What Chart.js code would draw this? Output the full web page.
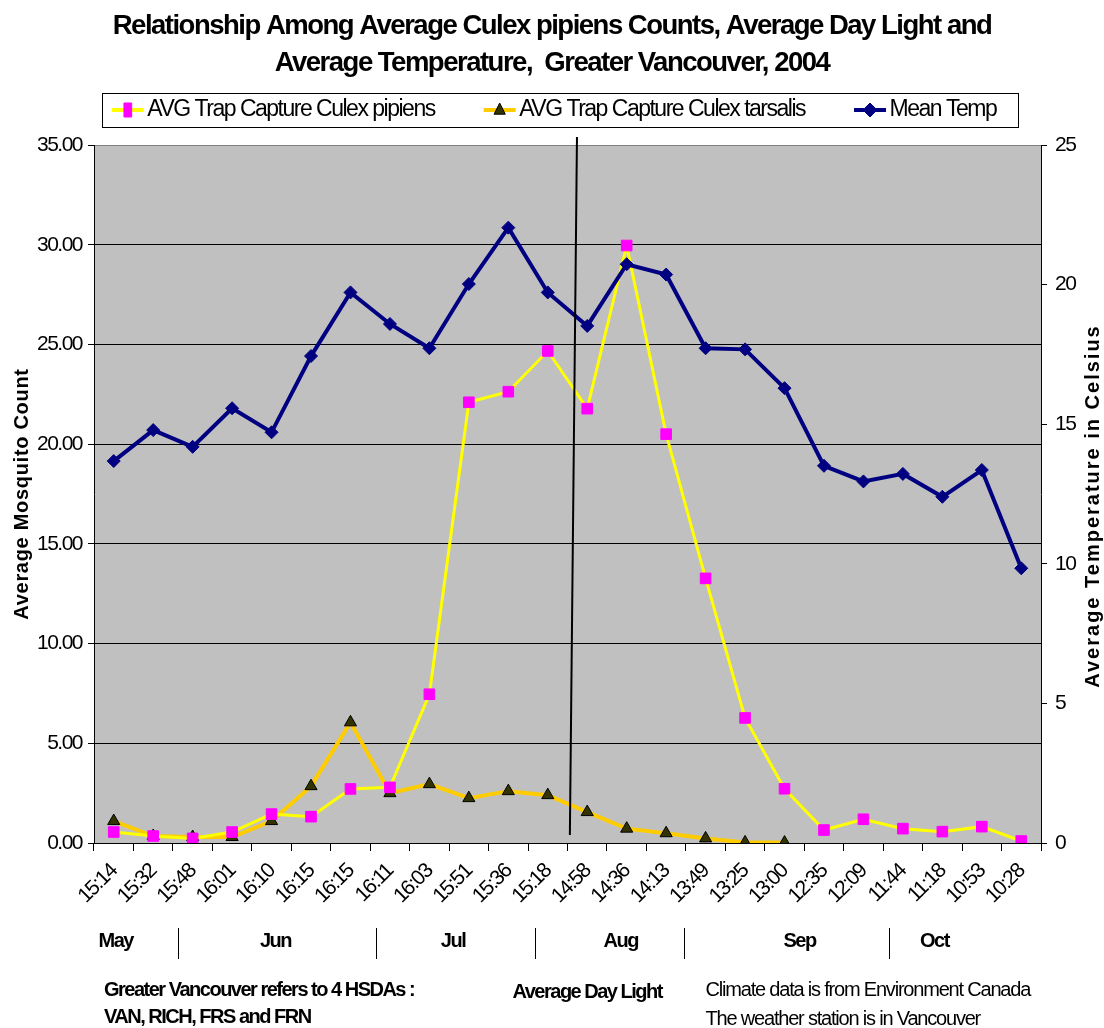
<!DOCTYPE html>
<html>
<head>
<meta charset="utf-8">
<script src="https://cdn.jsdelivr.net/npm/chart.js@4.4.1/dist/chart.umd.min.js"></script>
<style>
  body { margin: 0; background: #fff; }
</style>
</head>
<body>
<canvas id="chart" width="1104" height="1028"></canvas>
<script>
// Average day light per sampling week (x categories)
const dayLightTimes = ['15:14', '15:32', '15:48', '16:01', '16:10', '16:15', '16:15', '16:11', '16:03', '15:51', '15:36', '15:18',
    '14:58', '14:36', '14:13', '13:49', '13:25', '13:00', '12:35', '12:09', '11:44', '11:18', '10:53', '10:28'];
// Mosquito counts (left axis)
const pipiensCounts = [0.55, 0.35, 0.23, 0.55, 1.45, 1.32, 2.71, 2.79, 7.46, 22.1, 22.63, 24.67,
    21.78, 29.96, 20.5, 13.27, 6.27, 2.72, 0.65, 1.19, 0.72, 0.57, 0.82, 0.1];
const tarsalisCounts = [1.1, 0.35, 0.3, 0.3, 1.1, 2.85, 6.05, 2.5, 2.95, 2.25, 2.6, 2.4,
    1.55, 0.72, 0.49, 0.23, 0.03, 0.02, null, null, null, null, null, null];
// Mean temperature (right axis, Celsius)
const meanTemp = [13.68, 14.79, 14.19, 15.57, 14.71, 17.44, 19.72, 18.59, 17.72, 20.02, 22.04, 19.72,
    18.52, 20.73, 20.36, 17.72, 17.68, 16.29, 13.51, 12.95, 13.22, 12.40, 13.36, 9.84];
// Month row under the axis, in category index units
const months = ['May', 'Jun', 'Jul', 'Aug', 'Sep', 'Oct'];
const monthCentres = [0.05, 4.1, 8.6, 12.85, 17.38, 20.8];
const monthBreaks = [1.62, 6.65, 10.68, 14.45, 19.66];
// "Average Day Light" marker line: [category index, count value]
const dayLightTop = [11.74, 35.4];
const dayLightBottom = [11.56, 0.4];

const FONT = "'Liberation Sans', Arial, sans-serif";
Chart.defaults.font.family = FONT;
Chart.defaults.color = '#000';

function drawMarker(ctx, style, x, y, r, fill, stroke) {
    ctx.beginPath();
    if (style === 'rect') {
        ctx.rect(x - r * 0.55, y - r, r * 1.1, r * 2);
    } else if (style === 'triangle') {
        ctx.moveTo(x, y - r);
        ctx.lineTo(x + r * 0.8, y + r * 0.6);
        ctx.lineTo(x - r * 0.8, y + r * 0.6);
        ctx.closePath();
    } else {
        ctx.moveTo(x, y - r);
        ctx.lineTo(x + r, y);
        ctx.lineTo(x, y + r);
        ctx.lineTo(x - r, y);
        ctx.closePath();
    }
    ctx.fillStyle = fill;
    ctx.fill();
    ctx.strokeStyle = stroke;
    ctx.lineWidth = 1;
    ctx.stroke();
}

const excelLook = {
    id: 'excelLook',
    beforeLayout(chart) {
        chart.ctx.letterSpacing = '-1.5px';
    },
    beforeDraw(chart) {
        const {ctx, chartArea: a} = chart;
        ctx.save();
        ctx.fillStyle = '#c0c0c0';
        ctx.fillRect(a.left, a.top, a.right - a.left, a.bottom - a.top);
        ctx.restore();
        ctx.letterSpacing = '-1.5px';
    },
    afterDatasetsDraw(chart) {
        // x labels are drawn on a later layer with normal spacing
        chart.ctx.letterSpacing = '0px';
    },
    afterDraw(chart) {
        const {ctx, chartArea: a} = chart;
        const xs = chart.scales.x, ys = chart.scales.y;
        ctx.save();

        // day light line
        ctx.strokeStyle = '#000';
        ctx.lineWidth = 2;
        ctx.beginPath();
        ctx.moveTo(xs.getPixelForValue(dayLightTop[0]), ys.getPixelForValue(dayLightTop[1]));
        ctx.lineTo(xs.getPixelForValue(dayLightBottom[0]), ys.getPixelForValue(dayLightBottom[1]));
        ctx.stroke();

        // legend markers and frame
        const legend = chart.legend;
        const boxes = legend.legendHitBoxes;
        legend.legendItems.forEach((item, i) => {
            const hb = boxes[i];
            const ds = chart.data.datasets[item.datasetIndex];
            const cx = hb.left + 20, cy = hb.top + hb.height / 2;
            ctx.strokeStyle = ds.borderColor;
            ctx.lineWidth = 4;
            ctx.beginPath();
            ctx.moveTo(cx - 16, cy);
            ctx.lineTo(cx + 16, cy);
            ctx.stroke();
            drawMarker(ctx, ds.pointStyle, cx, cy, 7, ds.pointBackgroundColor, ds.pointBorderColor);
        });
        const first = boxes[0], last = boxes[boxes.length - 1];
        const midY = first.top + first.height / 2;
        ctx.strokeStyle = '#000';
        ctx.lineWidth = 1;
        ctx.strokeRect(Math.round(first.left - 6) + 0.5, Math.round(midY - 17) + 0.5,
            Math.round(last.left + last.width + 22 - first.left + 6), 34);

        // axis titles
        ctx.fillStyle = '#000';
        ctx.font = 'bold 20px ' + FONT;
        ctx.textAlign = 'center';
        ctx.textBaseline = 'middle';
        ctx.save();
        ctx.translate(a.left - 72, (a.top + a.bottom) / 2);
        ctx.rotate(-Math.PI / 2);
        ctx.letterSpacing = '0.7px';
        ctx.fillText('Average Mosquito Count', 0, 0);
        ctx.restore();
        ctx.save();
        ctx.translate(a.right + 52, (a.top + a.bottom) / 2 + 12);
        ctx.rotate(-Math.PI / 2);
        ctx.letterSpacing = '2px';
        ctx.fillText('Average Temperature in Celsius', 0, 0);
        ctx.restore();

        // month row
        ctx.letterSpacing = '-1.5px';
        ctx.font = 'bold 20px ' + FONT;
        months.forEach((m, i) => ctx.fillText(m, xs.getPixelForValue(monthCentres[i]), a.bottom + 98));
        ctx.lineWidth = 1;
        monthBreaks.forEach(v => {
            const x = Math.round(xs.getPixelForValue(v)) + 0.5;
            ctx.beginPath();
            ctx.moveTo(x, a.bottom + 85);
            ctx.lineTo(x, a.bottom + 116);
            ctx.stroke();
        });

        // notes
        ctx.textAlign = 'left';
        ctx.fillText('Greater Vancouver refers to 4 HSDAs :', a.left + 10, a.bottom + 147);
        ctx.fillText('VAN, RICH, FRS and FRN', a.left + 10, a.bottom + 174);
        ctx.textAlign = 'center';
        ctx.fillText('Average Day Light', xs.getPixelForValue(12), a.bottom + 149);
        ctx.textAlign = 'left';
        ctx.font = '20px ' + FONT;
        ctx.letterSpacing = '-1.2px';
        ctx.fillText('Climate data is from Environment Canada', xs.getPixelForValue(15), a.bottom + 147);
        ctx.fillText('The weather station is in Vancouver', xs.getPixelForValue(15), a.bottom + 176);
        ctx.restore();
    }
};

const ctx = document.getElementById('chart').getContext('2d');
new Chart(ctx, {
    type: 'line',
    data: {
        labels: dayLightTimes,
        datasets: [{
            label: 'AVG Trap Capture Culex pipiens',
            data: pipiensCounts,
            yAxisID: 'y',
            order: 1,
            borderColor: '#ffff00',
            borderWidth: 3,
            pointStyle: 'rect',
            pointRadius: 7.5,
            pointBackgroundColor: '#ff00ff',
            pointBorderColor: '#ff00ff',
            pointBorderWidth: 1
        }, {
            label: 'AVG Trap Capture Culex tarsalis',
            data: tarsalisCounts,
            yAxisID: 'y',
            order: 2,
            borderColor: '#ffcc00',
            borderWidth: 4,
            pointStyle: 'triangle',
            pointRadius: 7,
            pointBackgroundColor: '#333300',
            pointBorderColor: '#000',
            pointBorderWidth: 1
        }, {
            label: 'Mean Temp',
            data: meanTemp,
            yAxisID: 'y1',
            order: 0,
            borderColor: '#000080',
            borderWidth: 4,
            pointStyle: 'rectRot',
            pointRadius: 6.5,
            pointBackgroundColor: '#000080',
            pointBorderColor: '#000080',
            pointBorderWidth: 1
        }]
    },
    options: {
        responsive: false,
        animation: false,
        layout: { padding: { top: 0, left: 0, right: 0, bottom: 110 } },
        plugins: {
            title: {
                display: true,
                text: ['Relationship Among Average Culex pipiens Counts, Average Day Light and',
                    'Average Temperature,  Greater Vancouver, 2004'],
                font: { size: 27.5, weight: 'bold', lineHeight: 37 / 27.5 },
                padding: { top: 8, bottom: -42 },
                color: '#000'
            },
            legend: {
                labels: {
                    font: { size: 23 },
                    boxWidth: 28,
                    boxHeight: 50,
                    padding: 45,
                    color: '#000',
                    sort: (a, b) => a.datasetIndex - b.datasetIndex,
                    generateLabels(chart) {
                        return Chart.defaults.plugins.legend.labels.generateLabels(chart).map(item =>
                            Object.assign(item, { fillStyle: 'rgba(0,0,0,0)', strokeStyle: 'rgba(0,0,0,0)', lineWidth: 0 }));
                    }
                }
            },
            tooltip: { enabled: false }
        },
        scales: {
            x: {
                offset: true,
                z: 1,
                grid: { offset: true, drawOnChartArea: false, tickLength: 8, color: '#000' },
                border: { color: '#000' },
                ticks: { minRotation: 45, maxRotation: 45, autoSkip: false, font: { size: 21 }, padding: 8, color: '#000' },
                afterFit(scale) { scale.height = 75; }
            },
            y: {
                position: 'left',
                min: 0,
                max: 35,
                ticks: { stepSize: 5, font: { size: 21 }, padding: 6, color: '#000', callback: v => v.toFixed(2) },
                grid: { color: c => (c.tick && c.tick.value === 35 ? '#808080' : '#000'), tickLength: 6, tickColor: '#000' },
                border: { color: '#000' },
                afterFit(scale) { scale.width = 94; }
            },
            y1: {
                position: 'right',
                min: 0,
                max: 25,
                ticks: { stepSize: 5, font: { size: 21 }, padding: 8, color: '#000' },
                grid: { drawOnChartArea: false, tickLength: 6, color: '#000' },
                border: { color: '#000' },
                afterFit(scale) { scale.width = 63; }
            }
        }
    },
    plugins: [excelLook]
});
</script>
</body>
</html>
